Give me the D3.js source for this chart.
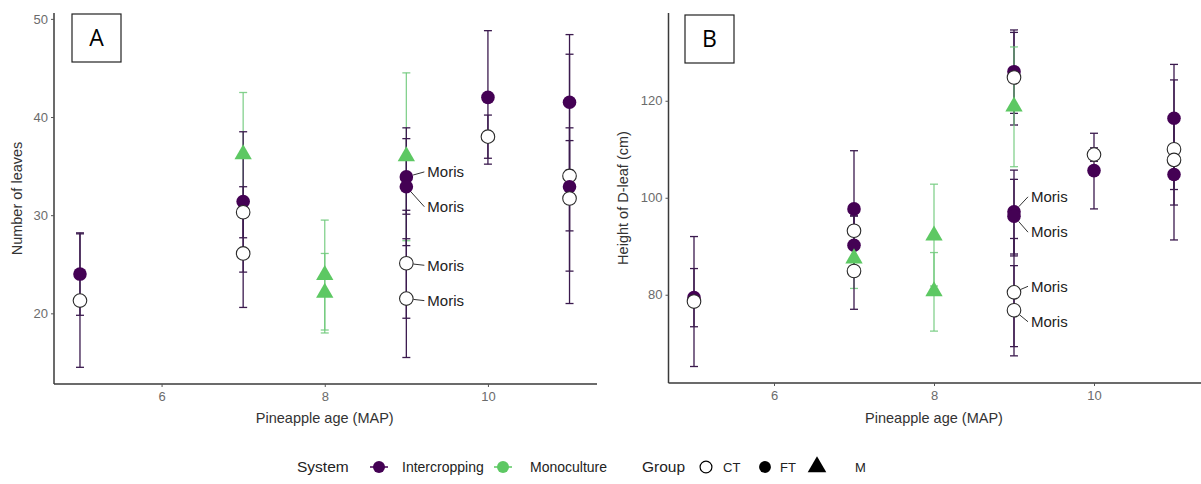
<!DOCTYPE html>
<html><head><meta charset="utf-8">
<script src="https://cdn.jsdelivr.net/npm/d3@7"></script>
<style>html,body{margin:0;padding:0;background:#fff;}svg{display:block;font-family:"Liberation Sans",Arial,sans-serif;}</style>
</head><body>
<svg id="chart" width="1201" height="484"></svg>
<script>
// ---------- Data: panel A (Number of leaves) ----------
const leavesAge    = [5,5,7,7,7,7,8,8,9,9,9,9,9,10,10,11,11,11,11];
const leavesSystem = ["Intercropping","Intercropping","Monoculture","Intercropping","Intercropping","Intercropping","Monoculture","Monoculture","Monoculture","Intercropping","Intercropping","Intercropping","Intercropping","Intercropping","Intercropping","Intercropping","Intercropping","Intercropping","Intercropping"];
const leavesGroup  = ["FT","CT","M","FT","CT","CT","M","M","M","FT","FT","CT","CT","FT","CT","FT","CT","FT","CT"];
const leavesMean   = [24.0,21.3,36.2,31.4,30.3,26.1,23.9,22.1,36.0,33.9,32.9,25.1,21.5,42.0,38.0,41.5,34.0,32.9,31.7];
const leavesLow    = [19.8,14.5,29.9,24.2,27.7,20.6,18.3,18.0,27.4,30.1,26.9,19.5,15.5,35.2,35.8,34.6,21.0,28.4,24.3];
const leavesHigh   = [28.2,28.1,42.5,38.5,32.9,31.6,29.5,26.1,44.5,37.8,38.9,30.5,27.6,48.8,40.2,48.4,46.4,37.6,38.9];
const leavesLabel  = ["","","","","","","","","","Moris","Moris","Moris","Moris","","","","","",""];

// ---------- Data: panel B (Height of D-leaf) ----------
const heightAge    = [5,5,7,7,7,7,7,8,8,9,9,9,9,9,9,9,10,10,11,11,11,11];
const heightSystem = ["Intercropping","Intercropping","Intercropping","Intercropping","Intercropping","Monoculture","Intercropping","Monoculture","Monoculture","Intercropping","Intercropping","Monoculture","Intercropping","Intercropping","Intercropping","Intercropping","Intercropping","Intercropping","Intercropping","Intercropping","Intercropping","Intercropping"];
const heightGroup  = ["FT","CT","FT","CT","FT","M","CT","M","M","FT","CT","M","FT","FT","CT","CT","CT","FT","FT","CT","CT","FT"];
const heightMean   = [79.4,78.6,97.7,93.2,90.2,87.5,84.9,92.2,80.7,126.0,124.8,118.8,97.1,96.2,80.5,76.8,108.9,105.6,116.4,110.0,107.8,104.8];
const heightLow    = [73.4,65.2,85.7,90.0,84.2,81.3,77.0,81.8,72.5,117.4,115.0,106.4,88.4,88.0,69.3,67.4,107.5,97.7,108.6,91.3,98.5,101.7];
const heightHigh   = [85.4,92.0,109.7,96.4,96.2,93.7,92.8,102.8,88.7,134.6,134.1,131.1,105.7,103.8,91.6,86.0,110.3,113.3,124.3,127.5,117.1,107.9];
const heightLabel  = ["","","","","","","","","","","","","Moris","Moris","Moris","Moris","","","","","",""];

const xTicks = [6, 8, 10];
const leavesTicks = [20, 30, 40, 50];
const heightTicks = [80, 100, 120];
const systems = ["Intercropping", "Monoculture"];
const groups = ["CT", "FT", "M"];

// ---------- Styling / layout ----------
const sysColor = d3.scaleOrdinal().domain(systems).range(["#440154", "#5DC863"]);
const barColor = d3.scaleOrdinal().domain(systems).range(["#3b1a4e", "#6fc97a"]);
const svg = d3.select("#chart");

function build(arr){
  const [age, sys, grp, mean, lo, hi, lab] = arr;
  return age.map((a,i)=>({age:a, sys:sys[i], grp:grp[i], mean:mean[i], lo:lo[i], hi:hi[i], label:lab[i]}));
}

function panel(cfg){
  const g = svg.append("g");
  const x = d3.scaleLinear().domain([4.7, 11.3]).range(cfg.xr);
  const y = d3.scaleLinear().domain(cfg.yd).range([cfg.yb, cfg.yt]);
  const axisX = cfg.xr[0] - 1.5;

  const xa = g.append("g").attr("transform", `translate(0,${cfg.yb})`)
    .call(d3.axisBottom(x).tickValues(xTicks).tickSize(3).tickPadding(5).tickFormat(d3.format("d")));
  xa.select(".domain").attr("d", `M${axisX},0H${cfg.xr[1]+3}`);
  const ya = g.append("g").attr("transform", `translate(${axisX},0)`)
    .call(d3.axisLeft(y).tickValues(cfg.ticks).tickSize(3).tickPadding(3).tickFormat(d3.format("d")));
  ya.select(".domain").attr("d", `M0,${cfg.yt}V${cfg.yb}`);
  [xa, ya].forEach(a=>{
    a.select(".domain").attr("stroke", "#3a3a3a").attr("stroke-width", 1.5);
    a.selectAll(".tick line").attr("stroke", "#555").attr("stroke-width", 1);
    a.selectAll(".tick text").attr("fill", "#6b6b6b").attr("font-size", 13).attr("font-family", "Liberation Sans, Arial, sans-serif");
  });

  g.append("text").attr("x", (cfg.xr[0]+cfg.xr[1])/2).attr("y", 423).attr("text-anchor","middle")
    .attr("font-size", 14.5).attr("fill", "#333").text("Pineapple age (MAP)");
  g.append("text").attr("transform", `translate(${cfg.ytx},${(cfg.yt+cfg.yb)/2}) rotate(-90)`).attr("text-anchor","middle")
    .attr("font-size", 14.5).attr("fill", "#333").text(cfg.ytitle);

  g.append("rect").attr("x", cfg.box[0]).attr("y", cfg.box[1]).attr("width", 49).attr("height", 48)
    .attr("fill", "#fff").attr("stroke", "#222").attr("stroke-width", 1.2);
  g.append("text").attr("x", cfg.box[0]+24.5).attr("y", cfg.box[1]+32).attr("text-anchor","middle")
    .attr("font-family", "Open Sans, Carlito, sans-serif").attr("font-size", 23).attr("fill", "#000").text(cfg.letter);

  const data = cfg.data;
  const eb = g.append("g").selectAll("g").data(data).join("g")
    .attr("stroke", d=>barColor(d.sys)).attr("stroke-opacity", d=>d.sys==="Monoculture"?0.85:1).attr("stroke-width", 1.3);
  eb.append("line").attr("x1", d=>x(d.age)).attr("x2", d=>x(d.age)).attr("y1", d=>y(d.lo)).attr("y2", d=>y(d.hi));
  eb.append("line").attr("x1", d=>x(d.age)-4).attr("x2", d=>x(d.age)+4).attr("y1", d=>y(d.lo)).attr("y2", d=>y(d.lo));
  eb.append("line").attr("x1", d=>x(d.age)-4).attr("x2", d=>x(d.age)+4).attr("y1", d=>y(d.hi)).attr("y2", d=>y(d.hi));

  const sym = d3.symbol();
  g.append("g").selectAll("path").data(data).join("path")
    .attr("transform", d=>`translate(${x(d.age)},${y(d.mean)})`)
    .attr("d", d=> d.grp==="M" ? sym.type(d3.symbolTriangle).size(130)() : sym.type(d3.symbolCircle).size(145)())
    .attr("fill", d=> d.grp==="CT" ? "#fff" : sysColor(d.sys))
    .attr("stroke", d=> d.grp==="CT" ? "#2a2a2a" : "none")
    .attr("stroke-width", 1.1);

  const labeled = data.filter(d=>d.label);
  labeled.forEach((d,i)=>{
    const px = x(d.age), py = y(d.mean);
    const ly = py + cfg.labelDy[i];
    const tx = px + cfg.labelDx;
    const ex = tx - 3, ey = ly;
    const dx = ex - px, dy = ey - py, len = Math.hypot(dx, dy);
    const sx = px + dx/len*7, sy = py + dy/len*7;
    g.append("line").attr("x1", sx).attr("y1", sy).attr("x2", ex).attr("y2", ey).attr("stroke", "#333").attr("stroke-width", 1);
    g.append("text").attr("x", tx).attr("y", ly).attr("dy", "0.35em").attr("font-size", 15).attr("fill", "#222").text(d.label);
  });
}

panel({
  data: build([leavesAge, leavesSystem, leavesGroup, leavesMean, leavesLow, leavesHigh, leavesLabel]),
  xr: [55.5, 594], yd: [12.8, 50.6], yb: 384, yt: 13, ticks: leavesTicks,
  ytitle: "Number of leaves", ytx: 22, box: [72, 14], letter: "A",
  labelDx: 21, labelDy: [-5, 20, 2, 2]
});
panel({
  data: build([heightAge, heightSystem, heightGroup, heightMean, heightLow, heightHigh, heightLabel]),
  xr: [670, 1198], yd: [61.8, 138.1], yb: 383, yt: 13, ticks: heightTicks,
  ytitle: "Height of D-leaf (cm)", ytx: 628, box: [685, 15], letter: "B",
  labelDx: 17, labelDy: [-15, 16, -6, 11.5]
});

// ---------- Legend ----------
const lg = svg.append("g").attr("transform", "translate(0,467)");
lg.append("text").attr("x", 297).attr("y", 0).attr("dy","0.35em").attr("font-size", 15.5).attr("fill","#222").text("System");
const sysItems = [{s:"Intercropping", cx:379, tx:402},{s:"Monoculture", cx:503, tx:530}];
sysItems.forEach(it=>{
  lg.append("line").attr("x1", it.cx-9).attr("x2", it.cx+9).attr("y1",0).attr("y2",0).attr("stroke", sysColor(it.s)).attr("stroke-width",1.5);
  lg.append("circle").attr("cx", it.cx).attr("cy", 0).attr("r", 6).attr("fill", sysColor(it.s));
  lg.append("text").attr("x", it.tx).attr("y", 0).attr("dy","0.35em").attr("font-size", 14).attr("fill","#222").text(it.s);
});
lg.append("text").attr("x", 642).attr("y", 0).attr("dy","0.35em").attr("font-size", 15.5).attr("fill","#222").text("Group");
const grpItems = [{g:"CT", cx:706, tx:723},{g:"FT", cx:765, tx:780},{g:"M", cx:817, tx:855}];
const sym2 = d3.symbol();
grpItems.forEach(it=>{
  lg.append("path").attr("transform", `translate(${it.cx},0)`)
    .attr("d", it.g==="M" ? sym2.type(d3.symbolTriangle).size(150)() : sym2.type(d3.symbolCircle).size(110)())
    .attr("fill", it.g==="CT" ? "#fff" : "#000").attr("stroke", it.g==="CT" ? "#000" : "none").attr("stroke-width", 1.2);
  lg.append("text").attr("x", it.tx).attr("y", 0).attr("dy","0.35em").attr("font-size", 13).attr("fill","#222").text(it.g);
});
</script>
</body></html>
